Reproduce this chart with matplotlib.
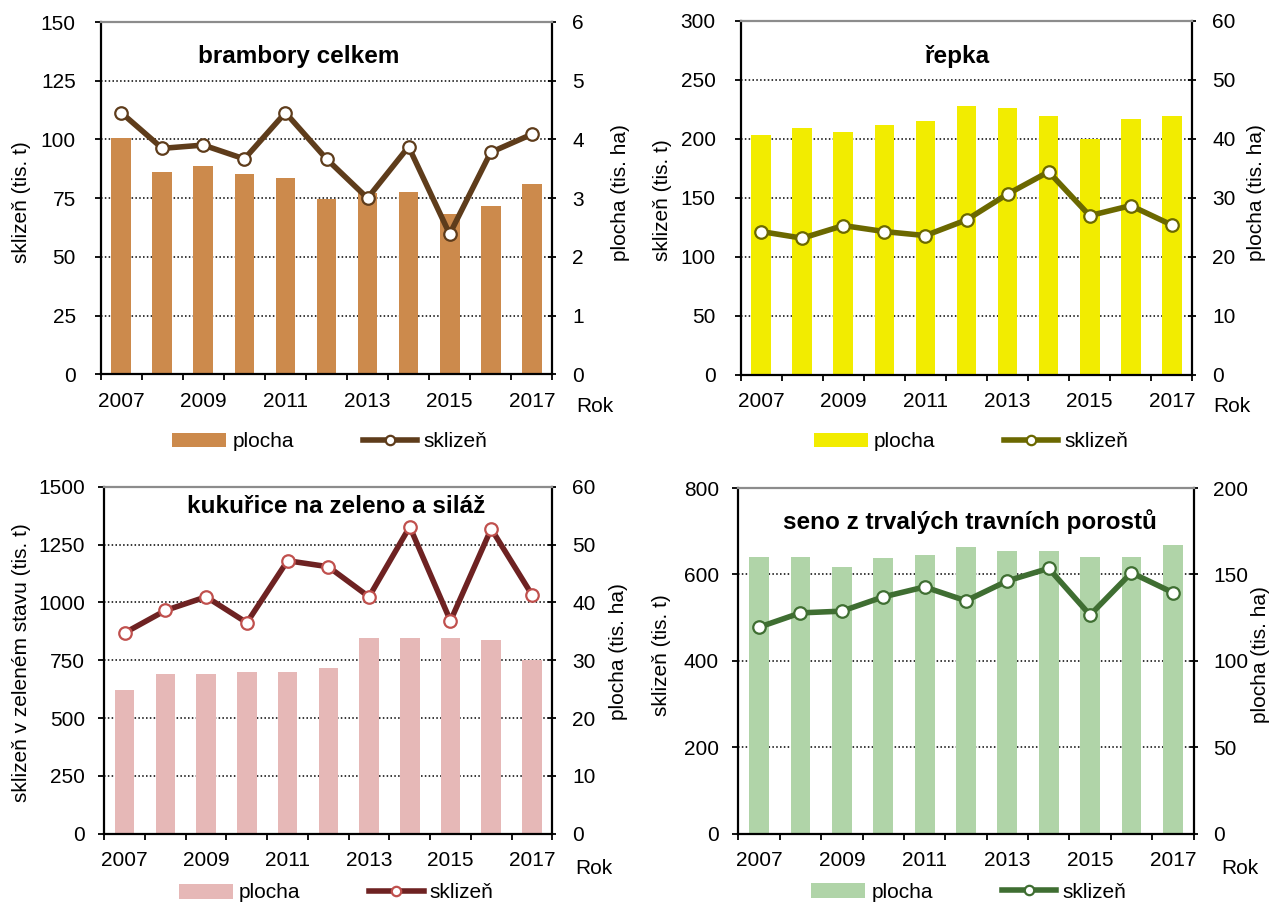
import matplotlib
matplotlib.use("Agg")
import matplotlib.pyplot as plt
import numpy as np

plt.rcParams['font.family'] = ['Liberation Sans', 'DejaVu Sans']

W, H = 1270, 906

years = [2007, 2008, 2009, 2010, 2011, 2012, 2013, 2014, 2015, 2016, 2017]

brambory_sklizen = [111.4, 96.2, 97.6, 91.7, 111.4, 91.7, 75.0, 96.9, 59.7, 94.5, 102.2]
brambory_plocha = [4.02, 3.44, 3.54, 3.41, 3.34, 2.99, 3.09, 3.10, 2.73, 2.86, 3.24]

repka_sklizen = [121.4, 115.8, 126.5, 121.4, 118.0, 131.3, 153.2, 172.1, 134.9, 143.4, 127.0]
repka_plocha = [40.6, 41.9, 41.2, 42.3, 43.0, 45.6, 45.3, 43.9, 39.9, 43.3, 43.9]

kukurice_sklizen = [868, 965, 1024, 912, 1180, 1154, 1024, 1327, 920, 1318, 1033]
kukurice_plocha = [24.9, 27.7, 27.7, 28.0, 28.0, 28.7, 33.9, 33.9, 33.9, 33.5, 30.1]

seno_sklizen = [478, 511, 515, 548, 571, 539, 585, 614, 506, 604, 558]
seno_plocha = [160.2, 160.2, 154.4, 159.6, 161.2, 165.8, 163.7, 163.7, 160.2, 160.2, 167.0]

panels = [
    dict(title="brambory celkem", sk=brambory_sklizen, pl=brambory_plocha,
         ylim=150, ystep=25, y2lim=6, y2step=1,
         ylabel="sklizeň (tis. t)",
         bar="#CC8A4C", line="#5E3C1B", medge="#5E3C1B",
         box=(100.7, 22, 552.3, 374.3), lpad=13.8,
         title_xy=(299, 56), yl_xy=(21.5, 202), y2l_xy=(620, 193),
         rok_xy=(595, 407), leg_xy=(172, 441.7)),
    dict(title="řepka", sk=repka_sklizen, pl=repka_plocha,
         ylim=300, ystep=50, y2lim=60, y2step=10,
         ylabel="sklizeň (tis. t)",
         bar="#F2EC00", line="#6B6800", medge="#6B6800",
         box=(740.7, 21, 1192.3, 374.7), lpad=13.8,
         title_xy=(957, 57), yl_xy=(663, 200), y2l_xy=(1257, 192.5),
         rok_xy=(1232, 407), leg_xy=(813.5, 441.7)),
    dict(title="kukuřice na zeleno a siláž", sk=kukurice_sklizen, pl=kukurice_plocha,
         ylim=1500, ystep=250, y2lim=60, y2step=10,
         ylabel="sklizeň v zeleném stavu (tis. t)",
         bar="#E6B8B7", line="#6E2222", medge="#C0504D",
         box=(104.3, 486.7, 552.3, 833.7), lpad=9.9,
         title_xy=(336, 506.7), yl_xy=(21.5, 662.5), y2l_xy=(619, 652),
         rok_xy=(594, 868), leg_xy=(178.7, 893)),
    dict(title="seno z trvalých travních porostů", sk=seno_sklizen, pl=seno_plocha,
         ylim=800, ystep=200, y2lim=200, y2step=50,
         ylabel="sklizeň (tis. t)",
         bar="#B0D4A8", line="#3F6E32", medge="#3F6E32",
         box=(738.4, 488, 1193.5, 833.7), lpad=9.9,
         title_xy=(970, 521.7), yl_xy=(661.5, 655), y2l_xy=(1260, 655),
         rok_xy=(1240, 868), leg_xy=(811, 892)),
]

FS = 15
fig = plt.figure(figsize=(W / 100, H / 100), dpi=100)


def fx(x):
    return x / W


def fy(y):
    return 1 - y / H


x = np.arange(len(years))

for p in panels:
    x0, y0, x1, y1 = p['box']
    ax = fig.add_axes([fx(x0), fy(y1), (x1 - x0) / W, (y1 - y0) / H])
    ax2 = ax.twinx()
    ax.set_zorder(ax2.get_zorder() + 1)
    ax.patch.set_visible(False)

    # bars (plocha) on secondary axis
    bars = ax2.bar(x, p['pl'], width=0.48, color=p['bar'], zorder=2, label="plocha")
    ax2.set_ylim(0, p['y2lim'])
    ax2.set_yticks(np.arange(0, p['y2lim'] + 0.001, p['y2step']))
    ax2.set_axisbelow(True)
    ax2.yaxis.grid(True, color="black", linestyle=(0, (1, 1.5)), linewidth=1.1)
    ax2.tick_params(axis='y', direction='inout', length=6, width=1.3, pad=11.2,
                    labelsize=FS, colors='black')

    # line (sklizeň) on primary axis
    ln, = ax.plot(x, p['sk'], color=p['line'], linewidth=4.0, marker='o',
                  markersize=9, markerfacecolor='white', markeredgecolor=p['medge'],
                  markeredgewidth=1.6, zorder=3, label="sklizeň")
    ax.set_ylim(0, p['ylim'])
    ax.set_yticks(np.arange(0, p['ylim'] + 0.001, p['ystep']))
    ax.tick_params(axis='y', direction='out', length=4.1, width=1.3, pad=p['lpad'],
                   labelsize=FS)

    ax.set_xlim(-0.5, len(years) - 0.5)
    ax.set_xticks(np.arange(-0.5, len(years), 1.0))
    ax.set_xticklabels([])
    ax.set_xticks(x[::2], minor=True)
    ax.set_xticklabels([str(v) for v in years[::2]], minor=True)
    ax.tick_params(axis='x', which='major', direction='out', length=4.1, width=1.3)
    ax.tick_params(axis='x', which='minor', length=0, pad=12.5, labelsize=FS)
    ax2.tick_params(axis='x', which='both', length=0)

    for s in ['left', 'bottom']:
        ax.spines[s].set_linewidth(1.6)
        ax.spines[s].set_color('black')
    ax.spines['top'].set_color('#8C8C8C')
    ax.spines['top'].set_linewidth(1.6)
    ax.spines['right'].set_visible(False)
    for s in ['left', 'top', 'bottom']:
        ax2.spines[s].set_visible(False)
    ax2.spines['right'].set_linewidth(1.6)
    ax2.spines['right'].set_color('black')

    fig.text(fx(p['title_xy'][0]), fy(p['title_xy'][1]), p['title'], fontsize=17.5,
             fontweight='bold', ha='center', va='center')
    fig.text(fx(p['yl_xy'][0]), fy(p['yl_xy'][1]), p['ylabel'], fontsize=FS,
             rotation=90, ha='center', va='center')
    fig.text(fx(p['y2l_xy'][0]), fy(p['y2l_xy'][1]), "plocha (tis. ha)", fontsize=FS,
             rotation=90, ha='center', va='center')
    fig.text(fx(p['rok_xy'][0]), fy(p['rok_xy'][1]), "Rok", fontsize=FS,
             ha='center', va='center')

    fig.legend([bars, ln], ["plocha", "sklizeň"], loc='center left',
               bbox_to_anchor=(fx(p['leg_xy'][0]), fy(p['leg_xy'][1])),
               ncol=2, frameon=False, fontsize=FS, borderpad=0, borderaxespad=0,
               handlelength=2.6, handletextpad=0.3, columnspacing=3.3,
               numpoints=1, markerscale=0.75)

fig.savefig("out.png", dpi=100)
